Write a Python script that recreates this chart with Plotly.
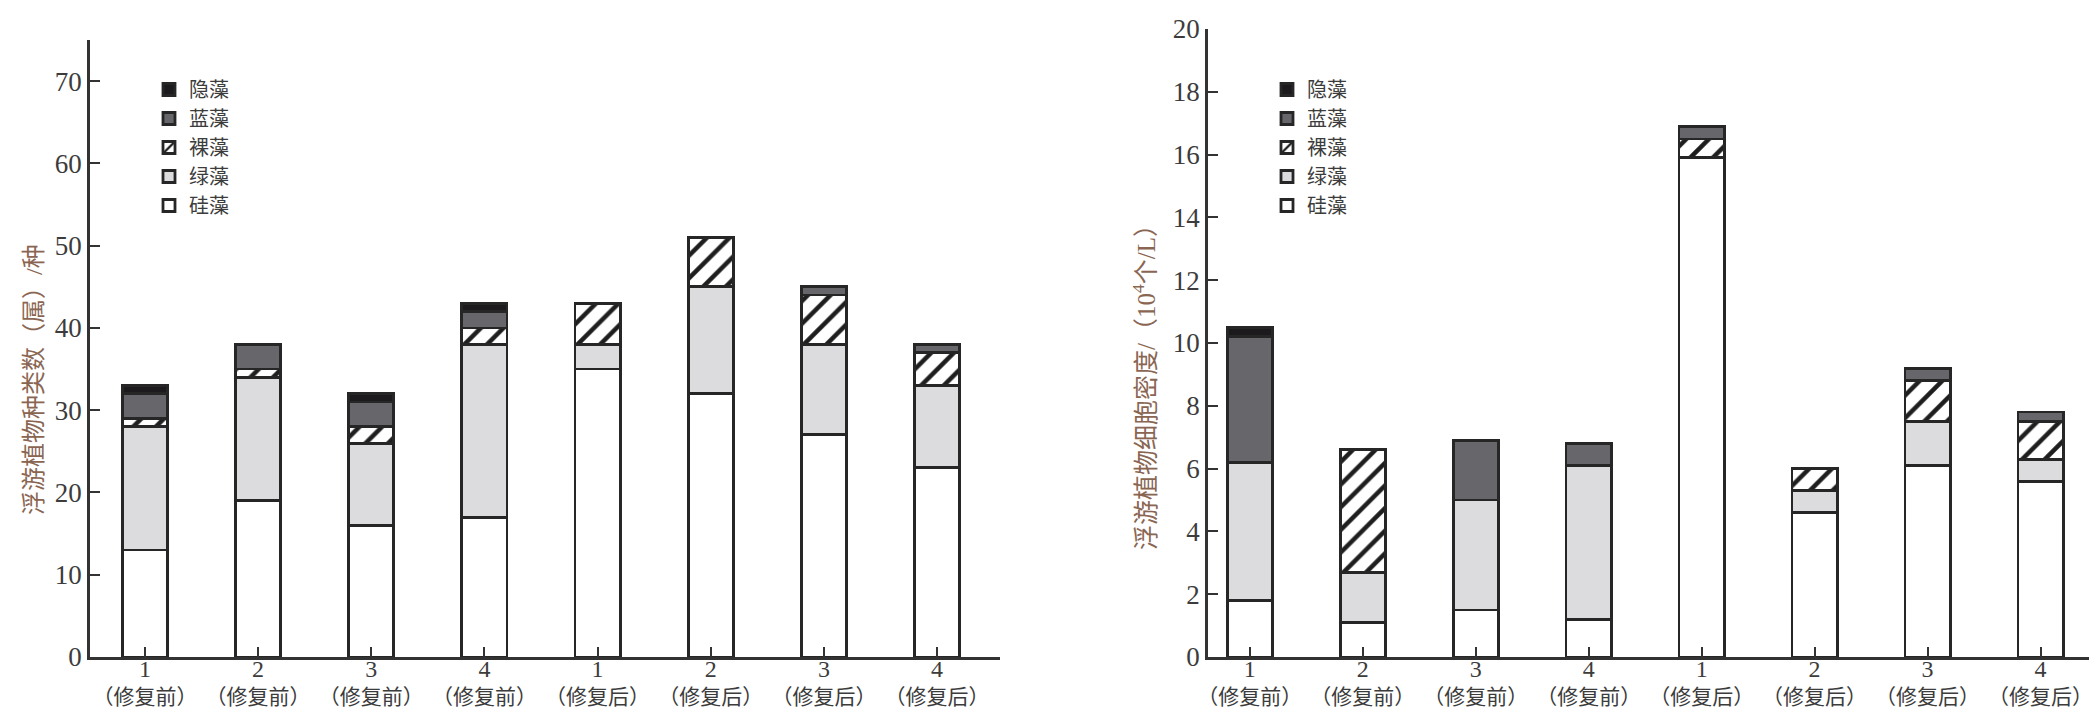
import plotly.graph_objects as go

# ---------------- data ----------------
sites = ["1", "2", "3", "4", "1", "2", "3", "4"]
phases = ["修复前", "修复前", "修复前", "修复前", "修复后", "修复后", "修复后", "修复后"]
series_names = ["硅藻", "绿藻", "裸藻", "蓝藻", "隐藻"]

# species richness (genera) per group
richness_guizao = [13, 19, 16, 17, 35, 32, 27, 23]
richness_lvzao = [15, 15, 10, 21, 3, 13, 11, 10]
richness_luozao = [1, 1, 2, 2, 5, 6, 6, 4]
richness_lanzao = [3, 3, 3, 2, 0, 0, 1, 1]
richness_yinzao = [1, 0, 1, 1, 0, 0, 0, 0]

# cell density (10^4 cells / L)
density_guizao = [1.8, 1.1, 1.5, 1.2, 15.9, 4.6, 6.1, 5.6]
density_lvzao = [4.4, 1.6, 3.5, 4.9, 0.0, 0.7, 1.4, 0.7]
density_luozao = [0.0, 3.9, 0.0, 0.0, 0.6, 0.7, 1.3, 1.2]
density_lanzao = [4.0, 0.0, 1.9, 0.7, 0.4, 0.0, 0.4, 0.3]
density_yinzao = [0.3, 0.0, 0.0, 0.0, 0.0, 0.0, 0.0, 0.0]

left_ticks = [0, 10, 20, 30, 40, 50, 60, 70]
right_ticks = [0, 2, 4, 6, 8, 10, 12, 14, 16, 18, 20]

left_title = "浮游植物种类数（属）/种"
right_title = "浮游植物细胞密度/（10<sup>4</sup>个/L）"

# ---------------- styling ----------------
FONT = "Liberation Serif, Noto Sans CJK SC, serif"
TXT = "#3c3c3c"
TITLE_C = "#8a6652"
EDGE = "#262626"
styles = {
    "硅藻": dict(color="white"),
    "绿藻": dict(color="#dcdcde"),
    "裸藻": dict(color="white", pattern=dict(shape="/", fgcolor="#1e1e1e", bgcolor="white",
                                            size=16, solidity=0.28, fillmode="replace")),
    "蓝藻": dict(color="#67676b"),
    "隐藻": dict(color="#1c1a1d"),
}

xpos = list(range(len(sites)))
ticktext = [f"<span style='font-size:24px'>{s}</span><br>（{p}）" for s, p in zip(sites, phases)]

fig = go.Figure()

def add_stack(values_list, xa, ya, legend_name):
    for name, vals in zip(series_names, values_list):
        y = [v if v > 0 else None for v in vals]
        m = dict(line=dict(color=EDGE, width=2.8))
        m.update(styles[name])
        fig.add_trace(go.Bar(
            x=xpos, y=y, name=name, marker=m, width=0.4,
            xaxis=xa, yaxis=ya, legend=legend_name,
        ))

add_stack([richness_guizao, richness_lvzao, richness_luozao, richness_lanzao, richness_yinzao],
          "x", "y", "legend")
add_stack([density_guizao, density_lvzao, density_luozao, density_lanzao, density_yinzao],
          "x2", "y2", "legend2")

# figure sits 8px in from the page corner (body margin), so size it to fit
W = 2089.0
H = 706.0
OFF = 8
ybot = (H - (657 - OFF)) / H

axis_common = dict(
    showline=True, linecolor="#333333", linewidth=2.8,
    showgrid=False, zeroline=False, automargin=False,
    ticks="inside", tickcolor="#333333", tickwidth=2.4, ticklen=10,
)
xfont = dict(family=FONT, size=21, color=TXT)
yfont = dict(family=FONT, size=27, color=TXT)

fig.update_layout(
    width=int(W), height=int(H),
    barmode="stack",
    paper_bgcolor="white", plot_bgcolor="white",
    margin=dict(l=0, r=0, t=0, b=0, autoexpand=False),
    showlegend=True,
    xaxis=dict(domain=[(90 - OFF) / W, (1000 - OFF) / W], range=[-0.485, 7.556], anchor="y",
               tickvals=xpos, ticktext=ticktext, tickfont=xfont, ticklabelstandoff=-8,
               **axis_common),
    yaxis=dict(domain=[ybot, (H - (40 - OFF)) / H], range=[0, 75], anchor="x",
               tickvals=left_ticks, tickfont=yfont, **axis_common),
    xaxis2=dict(domain=[(1208 - OFF) / W, 1.0], range=[-0.37, 7.5], anchor="y2",
                tickvals=xpos, ticktext=ticktext, tickfont=xfont, ticklabelstandoff=-8,
                **axis_common),
    yaxis2=dict(domain=[ybot, (H - (29 - OFF)) / H], range=[0, 20], anchor="x2",
                tickvals=right_ticks, tickfont=yfont, **axis_common),
    legend=dict(x=141 / W, y=1 - 62 / H, xanchor="left", yanchor="top",
                traceorder="reversed", bgcolor="rgba(0,0,0,0)",
                font=dict(family=FONT, size=20, color=TXT), tracegroupgap=0),
    legend2=dict(x=1259 / W, y=1 - 62 / H, xanchor="left", yanchor="top",
                 traceorder="reversed", bgcolor="rgba(0,0,0,0)",
                 font=dict(family=FONT, size=20, color=TXT), tracegroupgap=0),
    annotations=[
        dict(text=left_title, x=(34 - OFF) / W, y=(H - (380 - OFF)) / H, xref="paper", yref="paper",
             textangle=-90, showarrow=False, xanchor="center", yanchor="middle",
             font=dict(family=FONT, size=24, color=TITLE_C)),
        dict(text=right_title, x=(1144 - OFF) / W, y=(H - (381 - OFF)) / H, xref="paper", yref="paper",
             textangle=-90, showarrow=False, xanchor="center", yanchor="middle",
             font=dict(family=FONT, size=25, color=TITLE_C)),
    ],
)

fig.write_html("out.html")
